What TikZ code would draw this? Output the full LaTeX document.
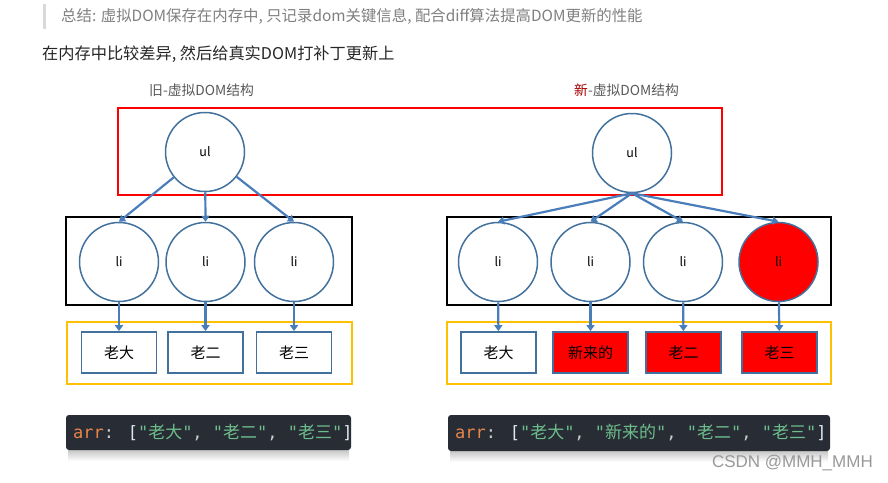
\documentclass[tikz,border=0pt]{standalone}
\usepackage{fontspec}
\newfontfamily\cjk{Noto Sans CJK SC}
\newfontfamily\codefont{DejaVu Sans Mono}
\newfontfamily\wmfont{Liberation Sans}
\usetikzlibrary{arrows.meta}

\definecolor{ofblue}{HTML}{41719C}
\definecolor{arblue}{HTML}{4A7EBB}
\definecolor{frameorange}{HTML}{FFC000}
\definecolor{codebg}{HTML}{282C34}
\definecolor{codeorange}{HTML}{E8864A}
\definecolor{codepunct}{HTML}{CCCCCC}
\definecolor{codebracket}{HTML}{DDE8F0}
\definecolor{codegreen}{HTML}{6DBE8C}
\definecolor{notegrey}{HTML}{7F7F7F}

\newcommand\codestr[1]{\textcolor{codegreen}{"{\cjk #1}"}}

\begin{document}
\begin{tikzpicture}[x=1pt,y=-1pt,
  tree/.style={circle,draw=ofblue,line width=1.5pt,minimum size=79pt,inner sep=0pt,
    font=\cjk\fontsize{12.5}{12.5}\selectfont},
  item/.style={rectangle,draw=ofblue,line width=1.8pt,minimum width=75pt,minimum height=41pt,
    inner sep=0pt,font=\cjk\fontsize{15}{15}\selectfont},
  link/.style={arblue,line width=2.2pt,-{Triangle[length=6pt,width=8pt]}},
  codeline/.style={anchor=west,inner sep=0pt,font=\codefont\fontsize{17}{17}\selectfont}]

\useasboundingbox (0,0) rectangle (888,482);

% heading lines
\fill[black!15] (43,4) rectangle (46,29);
\node[anchor=west,inner sep=0pt,text=notegrey,font=\cjk\fontsize{15.4}{15.4}\selectfont] (note) at (61,16)
  {总结: 虚拟DOM保存在内存中, 只记录dom关键信息, 配合diff算法提高DOM更新的性能};
\node[anchor=west,inner sep=0pt,text=black!85,font=\cjk\fontsize{16.2}{16.2}\selectfont] (patch) at (42,54)
  {在内存中比较差异, 然后给真实DOM打补丁更新上};
\node[anchor=west,inner sep=0pt,text=black!65,font=\cjk\fontsize{13.8}{13.8}\selectfont] (oldtitle) at (149,90)
  {旧-虚拟DOM结构};
\node[anchor=west,inner sep=0pt,text=black!65,font=\cjk\fontsize{13.8}{13.8}\selectfont] (newtitle) at (574,90)
  {\textcolor{red!65!black}{新}-虚拟DOM结构};

% frames
\draw[red,line width=2pt] (118,108) rectangle (722,195);
\draw[black,line width=2pt] (66,217) rectangle (352,305);
\draw[black,line width=2pt] (447,217) rectangle (831,305);
\draw[frameorange,line width=2pt] (67,322) rectangle (352,384);
\draw[frameorange,line width=2pt] (447,322) rectangle (831,384);

% old tree
\node[tree] (ulA) at (205,152) {ul};
\node[tree] (a1) at (119,262) {li};
\node[tree] (a2) at (205.5,262) {li};
\node[tree] (a3) at (294,262) {li};
\node[item] (ra1) at (119,352.5) {老大};
\node[item] (ra2) at (205.5,352.5) {老二};
\node[item] (ra3) at (294,352.5) {老三};

% new tree
\node[tree] (ulB) at (632,153) {ul};
\node[tree] (b1) at (498,262) {li};
\node[tree] (b2) at (590.5,262) {li};
\node[tree] (b3) at (683,262) {li};
\node[tree,fill=red] (b4) at (778.5,262) {li};
\node[item] (rb1) at (498.5,352.5) {老大};
\node[item,fill=red] (rb2) at (590.5,352.5) {新来的};
\node[item,fill=red] (rb3) at (683.5,352.5) {老二};
\node[item,fill=red] (rb4) at (779.5,352.5) {老三};

% connectors
\draw[link] (ulA) -- (a1.north);
\draw[link] (ulA) -- (a2.north);
\draw[link] (ulA) -- (a3.north);
\draw[link] (ulB.south) -- (b1.north);
\draw[link] (ulB.south) -- (b2.north);
\draw[link] (ulB.south) -- (b3.north);
\draw[link] (ulB.south) -- (b4.north);
\draw[link] (a1) -- (ra1);
\draw[link] (a2) -- (ra2);
\draw[link] (a3) -- (ra3);
\draw[link] (b1) -- (rb1);
\draw[link] (b2) -- (rb2);
\draw[link] (b3) -- (rb3);
\draw[link] (b4) -- (rb4);

% code boxes
\fill[top color=black!22,bottom color=white] (68,450) rectangle (349,461);
\fill[codebg,rounded corners=3pt] (66,415) rectangle (351,450);
\node[codeline] (codeA) at (73,432.5)
  {\textcolor{codeorange}{arr}\textcolor{codepunct}{:} \textcolor{codebracket}{[}\codestr{老大}\textcolor{codepunct}{,} \codestr{老二}\textcolor{codepunct}{,} \codestr{老三}\textcolor{codebracket}{]}};
\fill[top color=black!22,bottom color=white] (450,451) rectangle (828,462);
\fill[codebg,rounded corners=3pt] (448,415) rectangle (830,451);
\node[codeline] (codeB) at (455,433)
  {\textcolor{codeorange}{arr}\textcolor{codepunct}{:} \textcolor{codebracket}{[}\codestr{老大}\textcolor{codepunct}{,} \codestr{新来的}\textcolor{codepunct}{,} \codestr{老二}\textcolor{codepunct}{,} \codestr{老三}\textcolor{codebracket}{]}};

% watermark
\node[anchor=east,inner sep=0pt,text=black!40,font=\wmfont\fontsize{17}{17}\selectfont] (mark) at (873,463)
  {CSDN @MMH\_MMH};
\end{tikzpicture}
\end{document}
